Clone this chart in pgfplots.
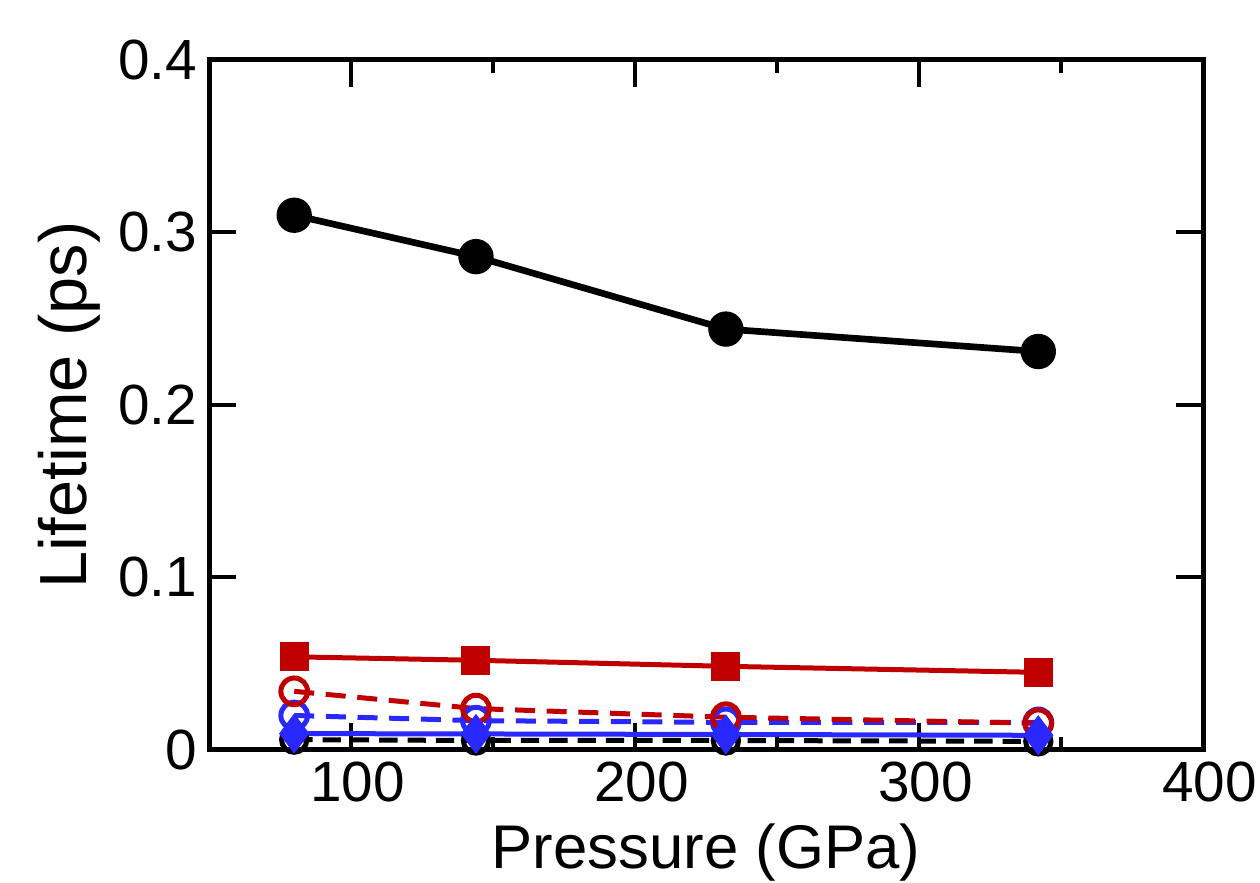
\documentclass[border=0pt]{standalone}
\usepackage{fontspec}
\setmainfont{Liberation Sans}
\usepackage{pgfplots}
\pgfplotsset{compat=1.18}
\usetikzlibrary{calc}
\definecolor{myred}{RGB}{192,0,0}
\definecolor{myblue}{RGB}{40,40,255}
\begin{document}
\begin{tikzpicture}
\begin{axis}[name=ax, scale only axis, width=298.2pt, height=207pt,
 xmin=50, xmax=400, ymin=0, ymax=0.4,
 xtick={100,200,300,400}, xticklabels={100,200,300,400},
 minor xtick={150,250,350},
 ytick={0,0.1,0.2,0.3,0.4}, yticklabels={0,0.1,0.2,0.3,0.4},
 tick align=inside, major tick length=8pt, minor tick length=4pt,
 tick style={black, line width=1.2pt},
 axis line style={line width=1.5pt},
 tick label style={font=\fontsize{17}{20}\selectfont},
 xticklabel style={xshift=2pt},
 xlabel={Pressure (GPa)}, ylabel={Lifetime (ps)},
 xlabel style={font=\fontsize{18.5}{22}\selectfont, at={($(axis description cs:0.5,0)+(0,-35.6pt)$)}, anchor=base},
 ylabel style={font=\fontsize{20}{24}\selectfont, at={($(axis description cs:0,0.5)+(-36.6pt,0)$)}, anchor=base},
 clip=false,
]
\addplot[black, line width=1.5pt, dash pattern=on 5.5pt off 3pt, mark=o, mark size=3.8pt, mark options={solid, fill=white}]
 coordinates {(80,0.006)(144,0.0055)(232,0.0055)(342,0.005)};
\addplot[myblue, line width=1.5pt, dash pattern=on 6pt off 3.5pt, mark=o, mark size=4pt, mark options={solid, fill=white}]
 coordinates {(80,0.020)(144,0.017)(232,0.016)(342,0.016)};
\addplot[myred, line width=1.5pt, dash pattern=on 6pt off 3.5pt, mark=o, mark size=4pt, mark options={solid, fill=white}]
 coordinates {(80,0.034)(144,0.024)(232,0.019)(342,0.0155)};
\addplot[myred, line width=1.5pt, mark=square*, mark size=3.6pt, mark options={solid}]
 coordinates {(80,0.054)(144,0.052)(232,0.0485)(342,0.045)};
\addplot[black, line width=2pt, mark=*, mark size=4.3pt]
 coordinates {(80,0.310)(144,0.286)(232,0.244)(342,0.231)};
\addplot[myblue, line width=1.5pt, mark=diamond*, mark size=4.8pt]
 coordinates {(80,0.0095)(144,0.0093)(232,0.009)(342,0.0085)};
\end{axis}
\pgfresetboundingbox
\path[use as bounding box] ($(ax.south west)+(-62.7pt,-39.9pt)$) rectangle ($(ax.north east)+(17.1pt,18pt)$);
\end{tikzpicture}
\end{document}
